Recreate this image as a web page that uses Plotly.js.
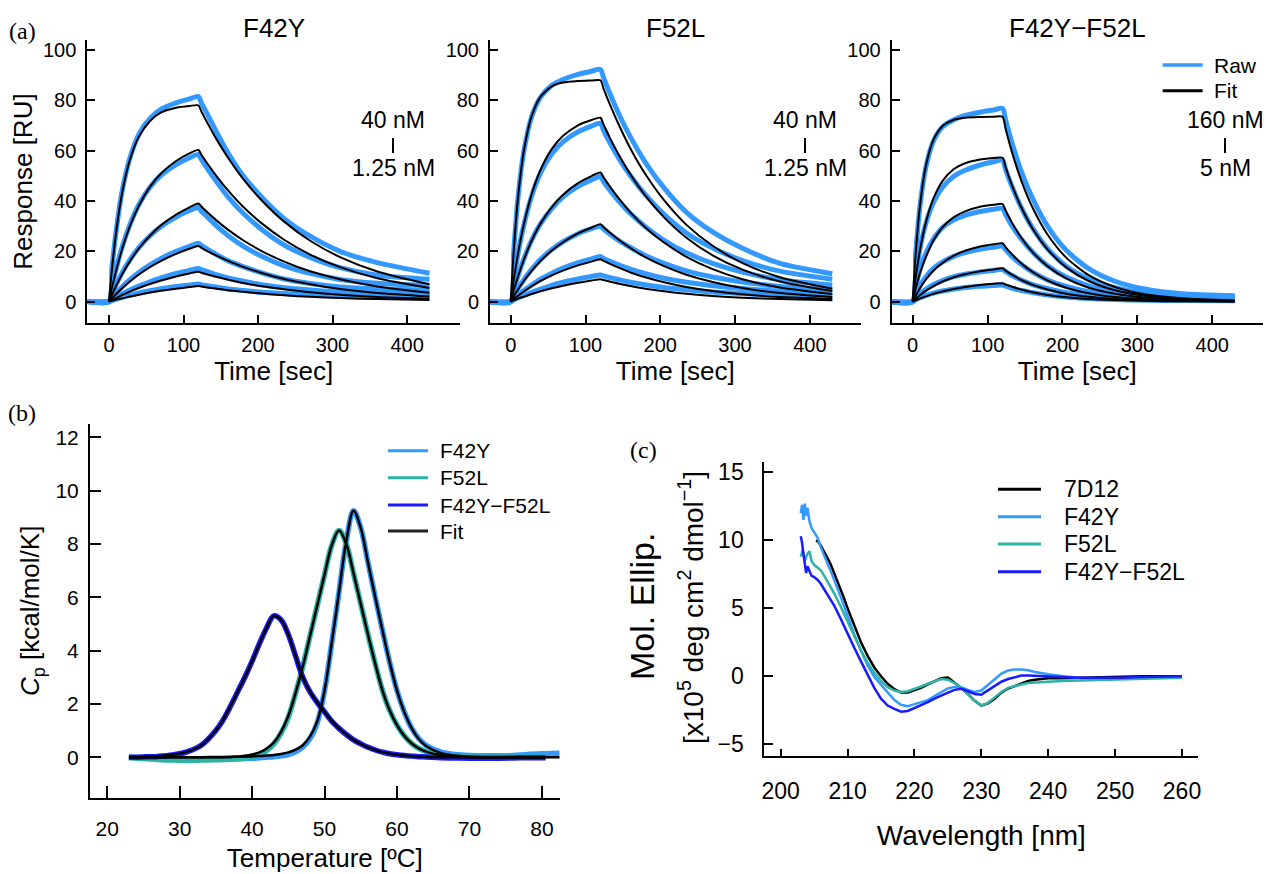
<!DOCTYPE html>
<html><head><meta charset="utf-8">
<script src="https://cdn.plot.ly/plotly-3.0.1.min.js"></script>
<style>html,body{margin:0;padding:0;background:#fff}</style>
</head><body>
<div id="chart" style="width:1266px;height:874px"></div>
<script>
// ---------- (a) SPR sensorgrams ----------
const timeSec = [-29, 0, 4, 10, 18, 28, 40, 55, 70, 90, 108, 120, 124, 132, 145, 160, 180, 205, 235, 270, 310, 360, 430];
const sprPanels = ['F42Y', 'F52L', 'F42Y\u2212F52L'];
const concTop = ['40 nM', '40 nM', '160 nM'];
const concBottom = ['1.25 nM', '1.25 nM', '5 nM'];
const sprLegend = ['Raw', 'Fit'];

const f42yRaw = [
  [0, 0, 13.5, 29, 44.5, 57, 66.5, 72.8, 76.5, 79, 80.6, 81.5, 79, 74.5, 67, 59, 50, 41.5, 33, 26, 20, 15.5, 11.3],
  [0, 0, 6, 13.5, 22, 30.5, 38.5, 45.5, 50.3, 54.5, 57.2, 58.5, 56.5, 52.9, 47.4, 41.5, 35.1, 28.7, 22.5, 17.6, 13.5, 10.5, 8.9],
  [0, 0, 3, 7, 11.7, 16.6, 21.5, 26.2, 29.9, 33.6, 36.2, 37.4, 35.9, 33.7, 29.9, 26.2, 22.1, 18, 14.2, 11.2, 8.8, 7.3, 6.5],
  [0, 0, 1.5, 3.5, 6, 8.7, 11.6, 14.6, 17.2, 20, 22, 23.2, 22.3, 20.9, 18.6, 16.2, 13.9, 11.4, 9, 7.2, 5.8, 5, 4.6],
  [0, 0, 0.8, 1.8, 3.1, 4.6, 6.2, 7.9, 9.4, 11.2, 12.4, 13.2, 12.7, 11.9, 10.6, 9.4, 8.1, 6.7, 5.5, 4.6, 3.8, 3.4, 3.3],
  [0, 0, 0.4, 1, 1.7, 2.5, 3.4, 4.3, 5.1, 6, 6.6, 7, 6.7, 6.3, 5.7, 5, 4.4, 3.7, 3.2, 2.7, 2.2, 2.1, 2]
];
const f42yFit = [
  [null, 0, 13, 28.5, 43.8, 56.3, 65.5, 71.8, 75.2, 77.1, 77.8, 78, 75.6, 71.1, 64.2, 57.1, 48.8, 40.2, 31.8, 24.2, 17.7, 12, 6.9],
  [null, 0, 5.5, 12.8, 21.2, 29.9, 38, 45.6, 51, 55.9, 58.9, 60.3, 58.4, 54.9, 49.6, 44.1, 37.7, 31.1, 24.6, 18.7, 13.7, 9.3, 5.4],
  [null, 0, 2.7, 6.5, 11.1, 16, 21.1, 26.2, 30.4, 34.6, 37.5, 39, 37.8, 35.5, 32.1, 28.5, 24.4, 20.1, 15.9, 12.1, 8.9, 6, 3.5],
  [null, 0, 1.3, 3.1, 5.4, 8, 10.8, 13.7, 16.2, 19, 21, 22.1, 21.4, 20.1, 18.2, 16.2, 13.8, 11.4, 9, 6.9, 5, 3.4, 2],
  [null, 0, 0.6, 1.5, 2.7, 4, 5.4, 7, 8.4, 10, 11.2, 11.9, 11.5, 10.8, 9.8, 8.7, 7.4, 6.1, 4.9, 3.7, 2.7, 1.8, 1.1],
  [null, 0, 0.3, 0.8, 1.3, 2, 2.7, 3.6, 4.3, 5.1, 5.8, 6.2, 6, 5.6, 5.1, 4.5, 3.9, 3.2, 2.5, 1.9, 1.4, 1, 0.6]
];
const f52lRaw = [
  [0, 0, 20, 42, 60.5, 73.5, 81.3, 86, 88.3, 90.3, 91.6, 92.3, 89.1, 83.1, 74.3, 65.5, 55.4, 45.2, 35.5, 27.7, 21.2, 15.2, 11.1],
  [0, 0, 8.5, 19.5, 31, 42, 51.3, 58.8, 63.5, 67.5, 69.8, 70.9, 68.2, 63.5, 56.7, 50, 42.5, 34.7, 27.3, 21.3, 16.3, 12.1, 8.9],
  [0, 0, 4.6, 10.5, 17.3, 24.4, 31, 37, 41.6, 45.8, 48.4, 49.7, 47.8, 44.5, 39.8, 35, 29.8, 24.4, 19.4, 15.2, 11.7, 8.7, 6.6],
  [0, 0, 2.3, 5.3, 8.9, 12.8, 16.8, 20.7, 23.8, 27, 29, 30, 28.9, 27, 24.2, 21.5, 18.3, 15.2, 12.2, 9.8, 7.8, 6, 4.8],
  [0, 0, 1.2, 2.7, 4.5, 6.6, 8.9, 11.3, 13.3, 15.5, 17, 17.9, 17.2, 16.1, 14.5, 12.9, 11.1, 9.3, 7.7, 6.3, 5.2, 4.1, 3.6],
  [0, 0, 0.6, 1.5, 2.5, 3.7, 5, 6.5, 7.7, 9, 10, 10.6, 10.2, 9.6, 8.7, 7.7, 6.7, 5.6, 4.7, 3.8, 3.2, 2.5, 2.1]
];
const f52lFit = [
  [null, 0, 20.1, 42, 60.7, 73.8, 81.5, 85.6, 87.1, 87.7, 87.9, 88, 84.8, 78.8, 70, 60.9, 50.7, 40.3, 30.5, 22.2, 15.3, 9.7, 5.1],
  [null, 0, 8.5, 19.5, 31.3, 42.7, 52.5, 60.7, 65.9, 70.1, 72.2, 73.1, 70.5, 65.5, 58.1, 50.6, 42.1, 33.5, 25.4, 18.4, 12.7, 8, 4.2],
  [null, 0, 4.4, 10.2, 17, 24.2, 31.1, 37.6, 42.5, 47.1, 49.9, 51.3, 49.5, 46, 40.8, 35.5, 29.5, 23.5, 17.8, 12.9, 8.9, 5.6, 3],
  [null, 0, 2.1, 4.9, 8.4, 12.2, 16.2, 20.3, 23.6, 27.1, 29.4, 30.8, 29.7, 27.6, 24.5, 21.3, 17.7, 14.1, 10.7, 7.8, 5.4, 3.4, 1.8],
  [null, 0, 1, 2.4, 4.1, 6.1, 8.2, 10.4, 12.3, 14.4, 15.9, 16.8, 16.2, 15.1, 13.4, 11.6, 9.7, 7.7, 5.8, 4.2, 2.9, 1.8, 1],
  [null, 0, 0.5, 1.2, 2, 3, 4.1, 5.3, 6.3, 7.5, 8.4, 8.9, 8.6, 8, 7.1, 6.2, 5.1, 4.1, 3.1, 2.2, 1.5, 1, 0.5]
];
const dblRaw = [
  [0, 0, 19, 38.5, 54, 64, 69.5, 72.3, 74, 75.3, 76.2, 76.8, 72.2, 63.7, 51.8, 41.1, 30, 20.4, 13.1, 8.1, 5, 3.1, 2.3],
  [0, 0, 10, 21.5, 31.5, 39.5, 45.5, 49.8, 52.2, 54.3, 55.6, 56.3, 52.6, 46.2, 37.4, 29.3, 21.1, 14.1, 9, 5.5, 3.4, 2.1, 1.7],
  [0, 0, 6, 13, 19.5, 25, 29.5, 32.5, 34.3, 35.8, 36.7, 37.1, 34.7, 30.4, 24.9, 19.7, 14.3, 9.8, 6.3, 3.9, 2.5, 1.7, 1.3],
  [0, 0, 3, 6.5, 10, 13.3, 15.8, 18, 19.5, 20.8, 21.6, 22.1, 20.7, 18.1, 14.8, 11.7, 8.6, 6, 3.9, 2.4, 1.5, 1.1, 0.9],
  [0, 0, 1.5, 3.2, 5, 6.8, 8.4, 9.9, 10.9, 11.8, 12.4, 12.8, 12, 10.5, 8.6, 6.8, 5.1, 3.5, 2.3, 1.5, 1, 0.7, 0.6],
  [0, 0, 0.7, 1.6, 2.5, 3.4, 4.2, 5, 5.6, 6.1, 6.4, 6.6, 6.2, 5.4, 4.4, 3.6, 2.6, 1.8, 1.2, 0.8, 0.5, 0.4, 0.3]
];
const dblFit = [
  [null, 0, 19, 38.8, 54.5, 64.5, 69.8, 72.3, 73.1, 73.4, 73.5, 73.5, 68.7, 60, 48.1, 37.4, 26.7, 17.5, 10.5, 5.8, 2.9, 1.3, 0.4],
  [null, 0, 9.5, 20.8, 31.9, 41.2, 48, 52.7, 55, 56.5, 57.1, 57.2, 53.5, 46.7, 37.5, 29.1, 20.8, 13.6, 8.2, 4.5, 2.3, 1, 0.3],
  [null, 0, 5.1, 11.6, 18, 24.5, 29.6, 33.6, 35.9, 37.7, 38.5, 38.8, 36.3, 31.7, 25.4, 19.7, 14.1, 9.2, 5.5, 3.1, 1.6, 0.7, 0.2],
  [null, 0, 2.3, 5.4, 8.9, 12.4, 15.4, 18.3, 20.2, 21.9, 22.8, 23.2, 21.7, 19, 15.2, 11.8, 8.4, 5.5, 3.3, 1.8, 0.9, 0.4, 0.1],
  [null, 0, 1.1, 2.6, 4.4, 6.2, 8, 9.7, 10.9, 12.1, 12.8, 13.2, 12.3, 10.8, 8.6, 6.7, 4.8, 3.1, 1.9, 1, 0.5, 0.2, 0.1],
  [null, 0, 0.5, 1.3, 2.1, 3.1, 4, 5, 5.8, 6.6, 7.1, 7.3, 6.8, 6, 4.8, 3.7, 2.6, 1.7, 1, 0.6, 0.3, 0.1, 0]
];

// ---------- (b) DSC ----------
const dscTemp = [23, 25, 27, 29, 31, 33, 35, 36, 37, 38, 39, 40, 41, 42, 43, 44, 45, 46, 47, 48, 49, 50, 51, 52, 53, 54, 55, 56, 57, 58, 59, 60, 61, 62, 63, 64, 66, 68, 70, 73, 76, 78, 80.5, 82.5];
const dscF42Y = [0, -0.02, -0.04, -0.05, -0.06, -0.07, -0.07, -0.07, -0.06, -0.06, -0.05, -0.04, -0.02, 0, 0.02, 0.05, 0.1, 0.2, 0.38, 0.7, 1.3, 2.5, 4.3, 6.2, 8.1, 9.25, 8.6, 7.3, 6.0, 4.75, 3.55, 2.5, 1.7, 1.1, 0.7, 0.45, 0.2, 0.1, 0.06, 0.05, 0.06, 0.1, 0.13, 0.15];
const dscF42YFit = [0, 0, 0, 0, 0, 0, 0.01, 0.01, 0.01, 0.02, 0.02, 0.03, 0.04, 0.06, 0.08, 0.12, 0.18, 0.28, 0.45, 0.78, 1.35, 2.5, 4.3, 6.2, 8.1, 9.25, 8.6, 7.3, 6.0, 4.75, 3.55, 2.5, 1.7, 1.1, 0.68, 0.42, 0.16, 0.06, 0.02, 0, 0, 0, 0, 0];
const dscF52L = [-0.02, -0.05, -0.09, -0.11, -0.12, -0.11, -0.1, -0.09, -0.08, -0.06, -0.04, 0.02, 0.1, 0.25, 0.5, 0.9, 1.5, 2.4, 3.4, 4.55, 5.7, 6.85, 7.95, 8.5, 8.0, 6.9, 5.75, 4.6, 3.5, 2.5, 1.75, 1.2, 0.8, 0.52, 0.33, 0.21, 0.08, 0.03, 0.01, 0, 0, 0, 0, null];
const dscF52LFit = [0, 0, 0, 0, 0, 0, 0, 0, 0.01, 0.02, 0.05, 0.1, 0.18, 0.32, 0.55, 0.95, 1.55, 2.4, 3.4, 4.55, 5.7, 6.85, 7.95, 8.5, 8.0, 6.9, 5.75, 4.6, 3.5, 2.5, 1.75, 1.2, 0.8, 0.52, 0.33, 0.21, 0.08, 0.03, 0.01, 0, 0, 0, 0, null];
const dscDouble = [0, 0.01, 0.03, 0.08, 0.2, 0.45, 1.0, 1.4, 1.9, 2.45, 3.0, 3.6, 4.25, 4.85, 5.3, 5.15, 4.6, 3.8, 3.0, 2.45, 2.05, 1.7, 1.35, 1.08, 0.85, 0.65, 0.5, 0.37, 0.27, 0.19, 0.13, 0.09, 0.06, 0.04, 0.02, 0.01, -0.02, -0.03, -0.04, -0.04, -0.03, -0.02, -0.02, null];
const dscDoubleFit = [0.01, 0.02, 0.04, 0.09, 0.2, 0.45, 1.0, 1.4, 1.9, 2.45, 3.0, 3.6, 4.25, 4.85, 5.3, 5.15, 4.6, 3.8, 3.0, 2.45, 2.05, 1.7, 1.35, 1.08, 0.85, 0.65, 0.5, 0.37, 0.27, 0.19, 0.13, 0.09, 0.06, 0.04, 0.02, 0.01, 0, 0, 0, 0, 0, 0, 0, null];
const dscLegend = ['F42Y', 'F52L', 'F42Y\u2212F52L', 'Fit'];

// ---------- (c) CD spectra ----------
const cd7D12Nm = [205.3, 205.6, 206, 206.5, 207, 207.5, 208, 208.5, 209, 209.5, 210, 211, 212, 213, 214, 215, 216, 217, 218, 219, 220, 221, 222, 223, 224, 225, 226, 227, 228, 229, 230, 231, 232, 233, 234, 235, 236, 237, 238, 239, 240, 242, 245, 248, 251, 254, 257, 260];
const cd7D12 = [10.0, 9.9, 9.6, 9.2, 8.7, 8.2, 7.6, 7.0, 6.4, 5.7, 5.0, 3.7, 2.5, 1.5, 0.65, 0.0, -0.55, -0.95, -1.2, -1.2, -1.05, -0.85, -0.6, -0.4, -0.15, -0.1, -0.45, -0.85, -1.3, -1.8, -2.15, -2.0, -1.65, -1.2, -0.9, -0.7, -0.5, -0.35, -0.25, -0.2, -0.15, -0.15, -0.1, -0.1, -0.05, 0.0, 0.0, 0.0];
const cdF42YNm = [203, 203.2, 203.4, 203.6, 203.8, 204, 204.3, 204.6, 205, 205.5, 206, 206.5, 207, 207.5, 208, 209, 210, 211, 212, 213, 214, 215, 216, 217, 218, 219, 220, 221, 222, 223, 224, 225, 226, 227, 228, 229, 230, 231, 232, 233, 234, 235, 236, 237, 238, 239, 240, 242, 245, 248, 251, 254, 257, 260];
const cdF42Y = [12.0, 12.6, 11.5, 12.7, 11.8, 12.4, 11.4, 10.9, 10.6, 10.2, 9.5, 8.9, 8.4, 7.7, 7.1, 5.8, 4.4, 3.1, 1.9, 0.8, -0.05, -0.6, -1.2, -1.75, -2.1, -2.2, -2.05, -1.9, -1.75, -1.45, -1.15, -0.9, -0.78, -0.8, -1.0, -1.15, -1.05, -0.65, -0.2, 0.2, 0.42, 0.5, 0.5, 0.45, 0.32, 0.22, 0.15, 0.02, -0.15, -0.18, -0.15, -0.1, -0.05, -0.05];
const cdF52LNm = [203, 203.3, 203.6, 204, 204.3, 204.6, 205, 205.5, 206, 206.5, 207, 207.5, 208, 209, 210, 211, 212, 213, 214, 215, 216, 217, 218, 219, 220, 221, 222, 223, 224, 225, 226, 227, 228, 229, 230, 231, 232, 233, 234, 235, 236, 237, 238, 239, 240, 242, 245, 248, 251, 254, 257, 260];
const cdF52L = [8.8, 9.3, 8.5, 9.0, 9.2, 8.5, 8.2, 8.0, 7.8, 7.4, 7.0, 6.6, 6.1, 5.1, 4.0, 2.9, 1.9, 1.0, 0.25, -0.35, -0.8, -1.05, -1.15, -1.1, -0.95, -0.75, -0.55, -0.35, -0.2, -0.25, -0.5, -0.85, -1.3, -1.8, -2.15, -1.95, -1.55, -1.15, -0.85, -0.7, -0.6, -0.5, -0.45, -0.42, -0.4, -0.35, -0.3, -0.25, -0.2, -0.15, -0.12, -0.1];
const cdDoubleNm = [203, 203.2, 203.4, 203.6, 203.8, 204, 204.3, 204.6, 205, 205.5, 206, 206.5, 207, 207.5, 208, 209, 210, 211, 212, 213, 214, 215, 216, 217, 218, 219, 220, 221, 222, 223, 224, 225, 226, 227, 228, 229, 230, 231, 232, 233, 234, 235, 236, 237, 238, 239, 240, 242, 245, 248, 251, 254, 257, 260];
const cdDouble = [10.3, 9.8, 9.0, 8.2, 7.6, 8.1, 7.8, 7.4, 7.3, 7.1, 6.8, 6.4, 6.0, 5.6, 5.2, 4.2, 3.1, 2.1, 1.1, 0.1, -0.85, -1.65, -2.15, -2.4, -2.6, -2.55, -2.35, -2.15, -1.9, -1.65, -1.4, -1.2, -1.0, -0.92, -1.1, -1.3, -1.35, -1.05, -0.7, -0.4, -0.2, -0.05, 0.05, 0.05, 0.02, 0.0, 0.0, -0.05, -0.1, -0.12, -0.1, -0.05, 0.0, 0.0];
const cdLegend = ['7D12', 'F42Y', 'F52L', 'F42Y\u2212F52L'];

// ---------- styling ----------
const C_LIGHT = '#3399FF', C_TEAL = '#2DB3A6', C_BLUE = '#1A1AFF', C_BLACK = '#000000';
const W = 1266, H = 874;
const dx = (a, b) => [a / W, b / W];
const dy = (top, bottom) => [1 - bottom / H, 1 - top / H];
const px = v => v / W, py = v => 1 - v / H;

const traces = [];
const sprRaw = [f42yRaw, f52lRaw, dblRaw];
const sprFit = [f42yFit, f52lFit, dblFit];
sprPanels.forEach((name, p) => {
  const xa = p === 0 ? 'x' : 'x' + (p + 1);
  const ya = p === 0 ? 'y' : 'y' + (p + 1);
  sprRaw[p].forEach(vals => traces.push({
    x: timeSec, y: vals, xaxis: xa, yaxis: ya, mode: 'lines', name: name + ' raw',
    line: {color: C_LIGHT, width: 5, shape: 'spline', smoothing: 0.7}, hoverinfo: 'skip'
  }));
  sprFit[p].forEach(vals => traces.push({
    x: timeSec, y: vals, xaxis: xa, yaxis: ya, mode: 'lines', name: name + ' fit',
    line: {color: C_BLACK, width: 2, shape: 'spline', smoothing: 0.7}, hoverinfo: 'skip'
  }));
});

// (b)
[[dscF42Y, C_LIGHT], [dscF52L, C_TEAL], [dscDouble, C_BLUE]].forEach(([vals, col]) => traces.push({
  x: dscTemp, y: vals, xaxis: 'x4', yaxis: 'y4', mode: 'lines',
  line: {color: col, width: 5.5, shape: 'spline', smoothing: 1}, hoverinfo: 'skip'
}));
[dscF42YFit, dscF52LFit, dscDoubleFit].forEach(vals => traces.push({
  x: dscTemp, y: vals, xaxis: 'x4', yaxis: 'y4', mode: 'lines',
  line: {color: C_BLACK, width: 2.5, shape: 'spline', smoothing: 1}, hoverinfo: 'skip'
}));

// (c)
const cdSeries = [[cd7D12Nm, cd7D12, C_BLACK], [cdF42YNm, cdF42Y, C_LIGHT], [cdF52LNm, cdF52L, C_TEAL], [cdDoubleNm, cdDouble, C_BLUE]];
cdSeries.forEach(([xs, ys, col], i) => traces.push({
  x: xs, y: ys, xaxis: 'x5', yaxis: 'y5', mode: 'lines', name: cdLegend[i],
  line: {color: col, width: 2.5}, hoverinfo: 'skip'
}));

const base = {showline: true, linecolor: '#000', linewidth: 2, ticks: 'inside', tickcolor: '#000', tickwidth: 2,
  ticklen: 8, showgrid: false, zeroline: false, automargin: false, fixedrange: true, color: '#000'};
const ax = o => Object.assign({}, base, o);

const aDomY = dy(40, 323);
const aX = [[87.3, 460, -29.1, 471], [490, 860.7, -27.7, 468], [891.7, 1263, -28, 467.7]];
const layout = {
  width: W, height: H, margin: {l: 0, r: 0, t: 0, b: 0},
  paper_bgcolor: '#fff', plot_bgcolor: 'rgba(0,0,0,0)',
  font: {family: 'Liberation Sans, Arial, sans-serif', color: '#000', size: 20},
  showlegend: false,
  annotations: [],
  shapes: []
};
const ann = (text, x, y, size, extra) => layout.annotations.push(Object.assign({
  text: text, x: px(x), y: py(y), xref: 'paper', yref: 'paper', showarrow: false,
  font: {size: size}, xanchor: 'center', yanchor: 'middle'
}, extra || {}));
const legLine = (x0, x1, y, col, w) => layout.shapes.push({
  type: 'line', xref: 'paper', yref: 'paper', x0: px(x0), x1: px(x1), y0: py(y), y1: py(y),
  line: {color: col, width: w}
});

aX.forEach((d, p) => {
  const xk = p === 0 ? 'xaxis' : 'xaxis' + (p + 1);
  const yk = p === 0 ? 'yaxis' : 'yaxis' + (p + 1);
  const yid = p === 0 ? 'y' : 'y' + (p + 1);
  const xid = p === 0 ? 'x' : 'x' + (p + 1);
  layout[xk] = ax({domain: dx(d[0], d[1]), range: [d[2], d[3]], anchor: yid, tick0: 0, dtick: 100,
    tickfont: {size: 20}, ticklabelstandoff: 3, title: {text: 'Time [sec]', font: {size: 26}, standoff: 5}});
  const yax = {domain: aDomY, range: [-8.5, 104], anchor: xid, tick0: 0, dtick: 20,
    tickfont: {size: 20}, ticklabelstandoff: 5};
  if (p === 0) yax.title = {text: 'Response [RU]', font: {size: 26}, standoff: 3};
  layout[yk] = ax(yax);
  ann(sprPanels[p], (d[0] + d[1]) / 2, 28, 26);
  const lx = [393, 805, 1225][p];
  ann(concTop[p], lx, 120, 23);
  ann(concBottom[p], lx, 168, 23);
  layout.shapes.push({type: 'line', xref: 'paper', yref: 'paper', x0: px(lx), x1: px(lx), y0: py(138), y1: py(153), line: {color: '#000', width: 2}});
});
// legend of (a)
legLine(1162.7, 1202.7, 65, C_LIGHT, 3.5);
legLine(1162.7, 1202.7, 90.7, C_BLACK, 3);
ann(sprLegend[0], 1211.7, 65, 21, {xanchor: 'left'});
ann(sprLegend[1], 1211.7, 90.7, 21, {xanchor: 'left'});

layout.xaxis4 = ax({domain: dx(90, 559.5), range: [17.63, 82.43], anchor: 'y4', tick0: 0, dtick: 10, ticklen: 12,
  tickfont: {size: 21}, ticklabelstandoff: 11, title: {text: 'Temperature [\u00baC]', font: {size: 26}, standoff: 10}});
layout.yaxis4 = ax({domain: dy(424, 797.7), range: [-1.52, 12.5], anchor: 'x4', tick0: 0, dtick: 2, ticklen: 11,
  tickfont: {size: 21}, ticklabelstandoff: 5, title: {text: '<i>C</i><sub>p</sub> [kcal/mol/K]', font: {size: 26}, standoff: 8}});
// legend of (b)
const dscLegCols = [C_LIGHT, C_TEAL, C_BLUE, '#222222'];
[450.7, 477.7, 505, 531].forEach((yy, i) => {
  legLine(388, 428, yy, dscLegCols[i], 3);
  ann(dscLegend[i], 438, yy, 21, {xanchor: 'left'});
});

layout.xaxis5 = ax({domain: dx(764.3, 1198.3), range: [197.55, 262.44], anchor: 'y5', tick0: 0, dtick: 10, ticklen: 7,
  tickfont: {size: 23}, ticklabelstandoff: 14, title: {text: 'Wavelength [nm]', font: {size: 28}, standoff: 22}});
layout.yaxis5 = ax({domain: dy(461.7, 755.7), range: [-5.84, 15.78], anchor: 'x5', tick0: 0, dtick: 5, ticklen: 9,
  tickfont: {size: 23}, ticklabelstandoff: 14});
ann('Mol. Ellip.', 642, 607, 34, {textangle: -90});
ann('[x10<sup>5</sup> deg cm<sup>2</sup> dmol<sup>\u22121</sup>]', 691, 608, 28, {textangle: -90});
// legend of (c)
const cdLegCols = [C_BLACK, C_LIGHT, C_TEAL, C_BLUE];
[489.3, 516.7, 544, 571.7].forEach((yy, i) => {
  legLine(998, 1041, yy, cdLegCols[i], 3);
  ann(cdLegend[i], 1062, yy, 23, {xanchor: 'left'});
});

// panel labels
[['(a)', 22, 31], ['(b)', 22, 413], ['(c)', 643, 450]].forEach(([t, x, y]) =>
  ann(t, x, y, 24, {font: {family: 'Liberation Serif, Times New Roman, serif', size: 24}}));

Plotly.newPlot('chart', traces, layout, {staticPlot: true, displayModeBar: false});
</script>
</body></html>
